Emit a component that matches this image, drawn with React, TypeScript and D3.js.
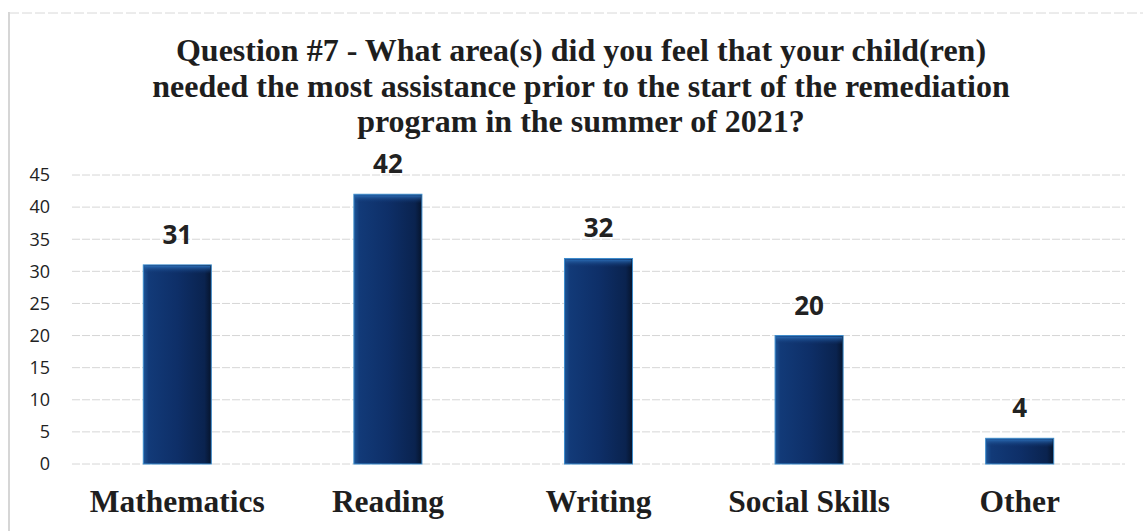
import React from "react";
import * as d3 from "d3";

const titleLines = [
  "Question #7 - What area(s) did you feel that your child(ren)",
  "needed the most assistance prior to the start of the remediation",
  "program in the summer of 2021?",
];
const categories = ["Mathematics", "Reading", "Writing", "Social Skills", "Other"];
const values = [31, 42, 32, 20, 4];
const yTicks = [0, 5, 10, 15, 20, 25, 30, 35, 40, 45];

const W = 1143;
const H = 531;

export default function App() {
  const x = d3
    .scaleBand<string>()
    .domain(categories)
    .range([72, 1125])
    .paddingInner(0.677)
    .paddingOuter(0.3385);
  const y = d3.scaleLinear().domain([0, 45]).range([464, 175]);
  const bw = x.bandwidth();

  return (
    <svg
      width={W}
      height={H}
      style={{ position: "absolute", left: 0, top: 0, background: "#fff" }}
    >
      <defs>
        <linearGradient id="barGrad" x1="0" x2="1" y1="0" y2="0">
          <stop offset="0" stopColor="#1d5598" />
          <stop offset="0.08" stopColor="#123a78" />
          <stop offset="0.5" stopColor="#0e2f68" />
          <stop offset="0.9" stopColor="#0a234f" />
          <stop offset="1" stopColor="#06142c" />
        </linearGradient>
        <linearGradient id="topGrad" x1="0" x2="0" y1="0" y2="1">
          <stop offset="0" stopColor="#2a6bb3" />
          <stop offset="1" stopColor="#0f316c" stopOpacity="0" />
        </linearGradient>
      </defs>
      {/* frame lines */}
      <line x1={9} x2={9} y1={12} y2={531} stroke="#c8c8c8" strokeWidth={1.5} />
      <line x1={9} x2={1143} y1={13} y2={13} stroke="#d8d8d8" strokeWidth={1} strokeDasharray="10 3" />

      {/* title */}
      {titleLines.map((t, i) => (
        <text
          key={i}
          x={581}
          y={61 + i * 35.5}
          textAnchor="middle"
          fontFamily="'Liberation Serif', 'Times New Roman', serif"
          fontWeight="bold"
          fontSize={32}
          fill="#1e1e1e"
        >
          {t}
        </text>
      ))}

      {/* gridlines & y ticks */}
      {yTicks.map((t) => (
        <g key={t}>
          <line
            x1={72}
            x2={1125}
            y1={y(t)}
            y2={y(t)}
            stroke="#d6d6d6"
            strokeWidth={1}
            strokeDasharray="8 2"
          />
          <text
            x={50}
            y={y(t)}
            dy="0.35em"
            textAnchor="end"
            fontFamily="'Open Sans', sans-serif"
            fontSize={18}
            fill="#222"
          >
            {t}
          </text>
        </g>
      ))}

      {/* bars */}
      {categories.map((c, i) => {
        const x0 = x(c)!;
        const top = y(values[i]);
        const h = y(0) - top;
        return (
          <g key={c}>
            <rect x={x0} y={top} width={bw} height={h} fill="url(#barGrad)" stroke="#3d8ccc" strokeWidth={1} />
            <rect x={x0 + 1} y={top + 1} width={bw - 2} height={Math.min(8, h - 2)} fill="url(#topGrad)" />
            <text
              x={x0 + bw / 2}
              y={top - 21}
              textAnchor="middle"
              fontFamily="'Open Sans', sans-serif"
              fontWeight="bold"
              fontSize={26}
              fill="#222"
            >
              {values[i]}
            </text>
            <text
              x={x0 + bw / 2}
              y={512}
              textAnchor="middle"
              fontFamily="'Liberation Serif', 'Times New Roman', serif"
              fontWeight="bold"
              fontSize={31.5}
              fill="#1e1e1e"
            >
              {c}
            </text>
          </g>
        );
      })}
    </svg>
  );
}
